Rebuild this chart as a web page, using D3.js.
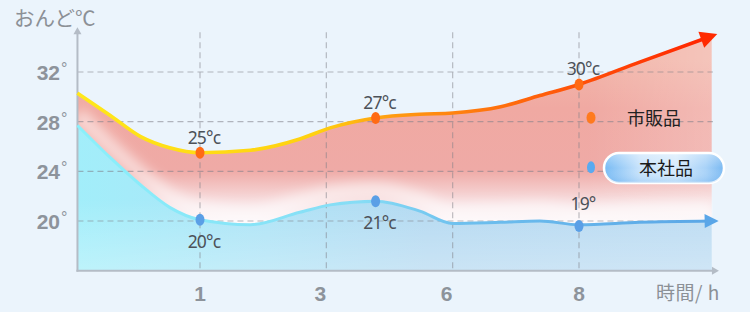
<!DOCTYPE html>
<html><head><meta charset="utf-8">
<script src="https://cdn.jsdelivr.net/npm/d3@7"></script>
<style>html,body{margin:0;padding:0;background:#ebf4fc;}svg{display:block;}</style>
</head><body>
<svg id="c" width="750" height="312"></svg>
<script>
// ---- data ----
const xTickLabels = ["1", "3", "6", "8"];          // at positions 1..4
const yTicks = [20, 24, 28, 32];
const samplePos = [0.03, 0.29, 0.53, 0.76, 1, 1.4, 1.79, 2.03, 2.39, 2.74, 3, 3.38, 3.69, 4, 4.48, 5.05];
const marketTemps = [30.3, 28.5, 26.8, 25.9, 25.5, 25.7, 26.6, 27.5, 28.3, 28.6, 28.7, 29.2, 30.1, 31.0, 32.8, 34.9];
const ourTemps    = [27.7, 25.1, 22.9, 21.1, 20.1, 19.7, 20.7, 21.3, 21.6, 20.8, 19.8, 19.9, 20.0, 19.7, 19.9, 20.0];
const marketPoints = [{p:1, v:25.5, label:"25°c"}, {p:2.39, v:28.3, label:"27°c"}, {p:4, v:31.0, label:"30°c"}];
const ourPoints    = [{p:1, v:20.1, label:"20°c"}, {p:2.39, v:21.6, label:"21°c"}, {p:4, v:19.6, label:"19°"}];
const seriesNames = ["市販品", "本社品"];
const yTitle = "おんど℃";
const xTitle = "時間/ h";

// ---- scales ----
const xs = d3.scaleLinear().domain([1, 4]).range([200, 579]);
const ys = d3.scaleLinear().domain([20, 32]).range([221, 72]);
const yMin = 16, yMax = 35.2;
const xMin = 0.03, xMax = 5.06;

const svg = d3.select("#c");
const defs = svg.append("defs");

function lg(id, x1, y1, x2, y2, stops, units) {
  const g = defs.append("linearGradient").attr("id", id)
    .attr("x1", x1).attr("y1", y1).attr("x2", x2).attr("y2", y2);
  if (units) g.attr("gradientUnits", units);
  stops.forEach(s => g.append("stop").attr("offset", s[0]).attr("stop-color", s[1]).attr("stop-opacity", s[2] == null ? 1 : s[2]));
}
lg("redLine", xs(xMin), 0, xs(xMax), 0, [[0, "#ffe81a"], [0.38, "#ffd010"], [0.5, "#ff9a12"], [0.75, "#ff5a0a"], [1, "#ff2200"]], "userSpaceOnUse");
lg("blueLine", xs(xMin), 0, xs(xMax), 0, [[0, "#8af0fb"], [0.45, "#86dcf5"], [0.6, "#6ec0ee"], [1, "#5aa6e6"]], "userSpaceOnUse");
lg("redFill", 0, 60, 0, 222, [[0, "#f2b6aa"], [0.3, "#f0a9a2"], [0.68, "#efaaa6"], [0.9, "#f8e4e6"], [1, "#fdf8fa"]], "userSpaceOnUse");
lg("redFillH", xs(xMin), 0, xs(xMax), 0, [[0, "#ffffff", 0], [0.8, "#ffffff", 0], [1, "#ffffff", 0.2]], "userSpaceOnUse");
lg("blueFill", xs(xMin), 0, xs(xMax), 0, [[0, "#a2eefa"], [0.3, "#ade3f6"], [0.55, "#b4d9f1"], [1, "#bbdbf2"]], "userSpaceOnUse");
lg("blueFade", 0, 200, 0, 272, [[0, "#ffffff", 0], [1, "#ffffff", 0.3]], "userSpaceOnUse");
lg("pill", 0, 0, 1, 0, [[0, "#76baf4"], [0.3, "#c8e3fb"], [0.6, "#d6ebfc"], [0.85, "#a8d2f8"], [1, "#78b8f2"]]);
lg("pillV", 0, 0, 0, 1, [[0, "#ffffff", 0.35], [0.5, "#ffffff", 0], [1, "#4a9ce8", 0.25]]);
defs.append("filter").attr("id", "blur").attr("x", "-20%").attr("y", "-50%").attr("width", "140%").attr("height", "200%")
  .append("feGaussianBlur").attr("stdDeviation", 6);
defs.append("clipPath").attr("id", "plotClip").append("rect")
  .attr("x", xs(xMin)).attr("y", ys(yMax)).attr("width", xs(xMax) - xs(xMin)).attr("height", ys(yMin) - ys(yMax));

const market = samplePos.map((p, i) => ({p, v: marketTemps[i]}));
const ours = samplePos.map((p, i) => ({p, v: ourTemps[i]}));
const curve = d3.curveMonotoneX;

const plot = svg.append("g").attr("clip-path", "url(#plotClip)");

// red area between the two lines
const between = samplePos.map((p, i) => ({p, hi: marketTemps[i], lo: ourTemps[i]}));
const areaBetween = d3.area().curve(curve).x(d => xs(d.p)).y0(d => ys(d.lo)).y1(d => ys(d.hi));
plot.append("path").attr("d", areaBetween(between)).attr("fill", "url(#redFill)");
plot.append("path").attr("d", areaBetween(between)).attr("fill", "url(#redFillH)");
// soft white glow above blue line
const lineGen = d3.line().curve(curve).x(d => xs(d.p)).y(d => ys(d.v));
plot.append("path").attr("d", lineGen(ours.map(d => ({p: d.p, v: d.v + 0.9}))))
  .attr("fill", "none").attr("stroke", "#ffffff").attr("stroke-opacity", 0.55)
  .attr("stroke-width", 16).attr("filter", "url(#blur)");
// blue area
const areaLow = d3.area().curve(curve).x(d => xs(d.p)).y0(ys(yMin)).y1(d => ys(d.v));
plot.append("path").attr("d", areaLow(ours)).attr("fill", "url(#blueFill)");
plot.append("path").attr("d", areaLow(ours)).attr("fill", "url(#blueFade)");

// gridlines
const grid = svg.append("g");
grid.selectAll("line.h").data(yTicks).join("line")
  .attr("x1", xs(xMin)).attr("x2", xs(xMax))
  .attr("y1", d => ys(d)).attr("y2", d => ys(d))
  .attr("stroke", "#7f8088").attr("stroke-opacity", 0.55).attr("stroke-width", 1.2)
  .attr("stroke-dasharray", "6,4");
grid.selectAll("line.v").data(xTickLabels).join("line")
  .attr("x1", (d, i) => xs(i + 1)).attr("x2", (d, i) => xs(i + 1))
  .attr("y1", ys(yMax)).attr("y2", ys(yMin))
  .attr("stroke", "#7f8088").attr("stroke-opacity", 0.5).attr("stroke-width", 1.2)
  .attr("stroke-dasharray", "6,4");

// axes
const axisColor = "#b4bcc6";
svg.append("line").attr("x1", xs(xMin)).attr("x2", xs(xMin)).attr("y1", ys(yMin) + 1).attr("y2", ys(yMax) - 1)
  .attr("stroke", axisColor).attr("stroke-width", 2);
svg.append("path").attr("d", `M${xs(xMin) - 4},${ys(yMax) + 2} L${xs(xMin)},${ys(yMax) - 5} L${xs(xMin) + 4},${ys(yMax) + 2}Z`).attr("fill", axisColor);
svg.append("line").attr("x1", xs(xMin) - 1).attr("x2", xs(xMax) + 1).attr("y1", ys(yMin)).attr("y2", ys(yMin))
  .attr("stroke", axisColor).attr("stroke-width", 2);
svg.append("path").attr("d", `M${xs(xMax) - 1},${ys(yMin) - 4} L${xs(xMax) + 6},${ys(yMin)} L${xs(xMax) - 1},${ys(yMin) + 4}Z`).attr("fill", axisColor);

// lines with arrowheads
function arrowHead(data, color, len, half, over) {
  const a = data[data.length - 2], b = data[data.length - 1];
  const ang = Math.atan2(ys(b.v) - ys(a.v), xs(b.p) - xs(a.p));
  const tx = xs(b.p) + Math.cos(ang) * over, ty = ys(b.v) + Math.sin(ang) * over;
  const bx = tx - Math.cos(ang) * len, by = ty - Math.sin(ang) * len;
  const px = -Math.sin(ang) * half, py = Math.cos(ang) * half;
  svg.append("path").attr("d", `M${tx},${ty}L${bx + px},${by + py}L${bx - px},${by - py}Z`).attr("fill", color);
}
svg.append("path").attr("d", lineGen(ours)).attr("fill", "none").attr("stroke", "url(#blueLine)").attr("stroke-width", 3);
arrowHead(ours, "#5aa6e8", 14, 7, 7);
svg.append("path").attr("d", lineGen(market)).attr("fill", "none").attr("stroke", "url(#redLine)").attr("stroke-width", 3.6);
arrowHead(market, "#ff2a00", 17, 8.5, 6);

// points
svg.selectAll("ellipse.m").data(marketPoints).join("ellipse")
  .attr("cx", d => xs(d.p)).attr("cy", d => ys(d.v)).attr("rx", 4.5).attr("ry", 6).attr("fill", "#ff6a14");
svg.selectAll("ellipse.o").data(ourPoints).join("ellipse")
  .attr("cx", d => xs(d.p)).attr("cy", d => ys(d.v)).attr("rx", 4.5).attr("ry", 6).attr("fill", "#5a9fe6");

const labFont = "'Noto Sans', 'DejaVu Sans', sans-serif";
svg.selectAll("text.m").data(marketPoints).join("text")
  .attr("x", d => xs(d.p) + 4).attr("y", d => ys(d.v) - 9)
  .attr("text-anchor", "middle").attr("font-family", labFont).attr("font-size", 17.5)
  .attr("fill", "#4c5158").attr("letter-spacing", -0.8).text(d => d.label);
svg.selectAll("text.o").data(ourPoints).join("text")
  .attr("x", d => xs(d.p) + 4).attr("y", (d, i) => ys(d.v) + (i === 2 ? -16 : 28))
  .attr("text-anchor", "middle").attr("font-family", labFont).attr("font-size", 17.5)
  .attr("fill", "#4c5158").attr("letter-spacing", -0.8).text(d => d.label);

// tick labels
const tickFont = "'Liberation Sans', Arial, sans-serif";
svg.selectAll("text.yt").data(yTicks).join("text")
  .attr("x", 60).attr("y", d => ys(d) + 8).attr("text-anchor", "end")
  .attr("font-family", tickFont).attr("font-weight", "bold").attr("font-size", 21).attr("fill", "#8d939b")
  .text(d => d);
svg.selectAll("text.yd").data(yTicks).join("text")
  .attr("x", 61).attr("y", d => ys(d) + 2)
  .attr("font-family", tickFont).attr("font-size", 16).attr("fill", "#8d939b")
  .text("°");
svg.selectAll("text.xt").data(xTickLabels).join("text")
  .attr("x", (d, i) => xs(i + 1) - (i === 1 || i === 2 ? 6 : 0)).attr("y", 301).attr("text-anchor", "middle")
  .attr("font-family", tickFont).attr("font-weight", "bold").attr("font-size", 21).attr("fill", "#8d939b")
  .text(d => d);

const cjk = "'Noto Sans CJK JP', 'Noto Sans', sans-serif";
svg.append("text").attr("x", 14).attr("y", 26).attr("font-family", cjk).attr("font-size", 20.5)
  .attr("fill", "#8b9096").text(yTitle);
svg.append("text").attr("x", 656).attr("y", 300).attr("font-family", cjk).attr("font-size", 19)
  .attr("fill", "#8b9096").attr("letter-spacing", 0.5).text(xTitle);

// legend
const legX = xs(4) + 12;
svg.append("ellipse").attr("cx", legX).attr("cy", ys(28) - 4).attr("rx", 4.5).attr("ry", 6).attr("fill", "#ff7a1e");
svg.append("text").attr("x", 627).attr("y", ys(28) + 3).attr("font-family", cjk).attr("font-size", 18)
  .attr("fill", "#222").text(seriesNames[0]);
svg.append("ellipse").attr("cx", legX).attr("cy", ys(24) - 4).attr("rx", 4).attr("ry", 6).attr("fill", "#5aaaf0");
svg.append("rect").attr("x", 604).attr("y", 153).attr("width", 120).attr("height", 30).attr("rx", 15)
  .attr("fill", "url(#pill)").attr("stroke", "#ffffff").attr("stroke-width", 2.5);
svg.append("rect").attr("x", 604).attr("y", 153).attr("width", 120).attr("height", 30).attr("rx", 15)
  .attr("fill", "url(#pillV)");
svg.append("text").attr("x", 666).attr("y", 174.5).attr("text-anchor", "middle").attr("font-family", cjk).attr("font-size", 18)
  .attr("fill", "#1a1a1a").text(seriesNames[1]);
</script>
</body></html>
